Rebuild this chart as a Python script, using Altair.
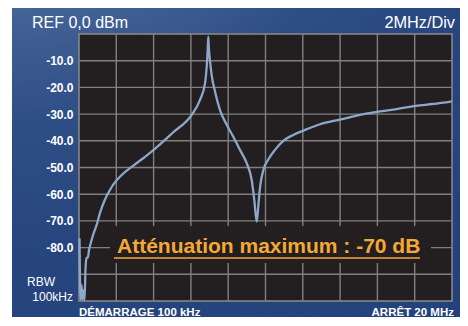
import altair as alt
import pandas as pd

# ---- data (frequency in MHz, level in dBm) ----
freq_mhz = [0.027, 0.080, 0.134, 0.188, 0.241, 0.295, 0.349, 0.402, 0.483, 0.536,
            0.643, 0.767, 0.949, 1.126, 1.394, 1.753, 2.290, 2.912, 3.539, 4.021,
            5.056, 6.043, 6.488, 6.756, 6.847, 6.901, 6.933, 6.960, 7.024, 7.115,
            7.292, 7.560, 7.920, 8.274, 8.633, 8.992, 9.260, 9.399, 9.528, 9.614,
            9.705, 9.882, 10.150, 10.509, 10.954, 11.491, 12.027, 12.922, 14.032, 15.067,
            16.048, 17.035, 18.054, 18.997, 20.0]
level_db = [-76.5, -99.5, -94.0, -99.5, -96.0, -99.5, -88.0, -84.0, -83.5, -81.0,
            -78.0, -75.0, -71.5, -67.0, -62.0, -57.3, -52.8, -49.3, -46.0, -43.3,
            -36.8, -30.3, -24.7, -18.5, -12.2, -6.0, -1.0, -5.0, -10.0, -15.5,
            -21.5, -28.5, -34.0, -38.5, -43.4, -48.4, -54.7, -62.2, -70.3, -64.5,
            -57.5, -51.0, -47.0, -43.4, -40.0, -37.8, -36.2, -33.8, -32.0, -30.3,
            -29.1, -28.1, -26.9, -26.2, -25.2]

grid_x = [2, 4, 6, 8, 10, 12, 14, 16, 18]
grid_y = [-10, -20, -30, -40, -50, -60, -70, -80, -90]
y_label_values = [-10, -20, -30, -40, -50, -60, -70, -80]

title_left = "REF 0,0 dBm"
title_right = "2MHz/Div"
rbw_1 = "RBW"
rbw_2 = "100kHz"
start_txt = "DÉMARRAGE 100 kHz"
stop_txt = "ARRÊT 20 MHz"
note_txt = "Atténuation maximum : -70 dB"

# ---- layout ----
W, H = 373, 267
PAD_L, PAD_T, PAD_R, PAD_B = 71, 26, 8, 16
FONT = "Liberation Sans"
PLOT_BG = "#231F20"
GRID = "#808080"
ORANGE = "#F4A936"
CURVE = "#8DA7CA"

x_scale = alt.Scale(domain=[0, 20], nice=False, zero=False)
y_scale = alt.Scale(domain=[-100, 0], nice=False, zero=False)
y_axis = alt.Axis(values=y_label_values, labelExpr="'-' + format(abs(datum.value), '.1f')",
                  grid=False, domain=False, ticks=False, title=None, zindex=1,
                  labelColor="white", labelFont=FONT, labelFontSize=12,
                  labelFontWeight="bold", labelPadding=6)

one = pd.DataFrame({"k": [0]})
curve_df = pd.DataFrame({"f": freq_mhz, "db": level_db})

panel = alt.Chart(one).mark_rect(
    fill={"gradient": "radial", "x1": 0, "y1": 0, "r1": 0, "x2": 0, "y2": 0, "r2": 1,
          "stops": [{"offset": 0, "color": "#A8C6E0"},
                    {"offset": 0.1, "color": "#88A9CD"},
                    {"offset": 0.23, "color": "#5A79A6"},
                    {"offset": 0.3, "color": "#4A6A9C"},
                    {"offset": 0.45, "color": "#2E4E86"},
                    {"offset": 0.6, "color": "#26457E"},
                    {"offset": 1, "color": "#213F78"}]}
).encode(x=alt.value(-67), x2=alt.value(887), y=alt.value(-26), y2=alt.value(292))

plot_bg = alt.Chart(one).mark_rect(fill=PLOT_BG, stroke="#8C8C8C", strokeWidth=1.5).encode(
    x=alt.value(0), x2=alt.value(W), y=alt.value(0), y2=alt.value(H))

vgrid = alt.Chart(pd.DataFrame({"gx": grid_x})).mark_rule(color=GRID, strokeWidth=1.4).encode(
    x=alt.X("gx:Q", scale=x_scale, axis=None))
hgrid = alt.Chart(pd.DataFrame({"gy": grid_y})).mark_rule(color=GRID, strokeWidth=1.4).encode(
    y=alt.Y("gy:Q", scale=y_scale, axis=y_axis))

note_box = alt.Chart(one).mark_rect(fill=PLOT_BG).encode(
    x=alt.value(31), x2=alt.value(352), y=alt.value(192), y2=alt.value(229))

curve = alt.Chart(curve_df).mark_line(color=CURVE, strokeWidth=2.3, strokeJoin="round",
                                      interpolate="monotone").encode(
    x=alt.X("f:Q", scale=x_scale, axis=None),
    y=alt.Y("db:Q", scale=y_scale, axis=y_axis))


def label(txt, x, y, size, weight="normal", align="left", color="white"):
    return alt.Chart(one).mark_text(
        text=txt, font=FONT, fontSize=size, fontWeight=weight, align=align,
        baseline="alphabetic", color=color
    ).encode(x=alt.value(x), y=alt.value(y))


texts = [
    label(title_left, -47, -6, 16),
    label(title_right, 376, -6, 16.3, align="right"),
    label(rbw_1, -52, 252, 12),
    label(rbw_2, -6, 267, 12, align="right"),
    label(start_txt, 0, 282, 11.5, weight="bold"),
    label(stop_txt, 375, 282, 11.5, weight="bold", align="right"),
    label(note_txt, 38, 219, 21, weight="bold", color=ORANGE),
]

underline = alt.Chart(one).mark_rule(color=ORANGE, strokeWidth=1.5).encode(
    x=alt.value(35), x2=alt.value(341), y=alt.value(224))

chart = alt.layer(panel, plot_bg, vgrid, hgrid, note_box, curve, underline, *texts).properties(
    width=W, height=H,
    padding={"left": PAD_L, "top": PAD_T, "right": PAD_R, "bottom": PAD_B},
    autosize=alt.AutoSizeParams(type="none"),
).configure_view(stroke=None).configure(background="white")

chart.save("out.html", embed_options={"renderer": "svg", "actions": False})
